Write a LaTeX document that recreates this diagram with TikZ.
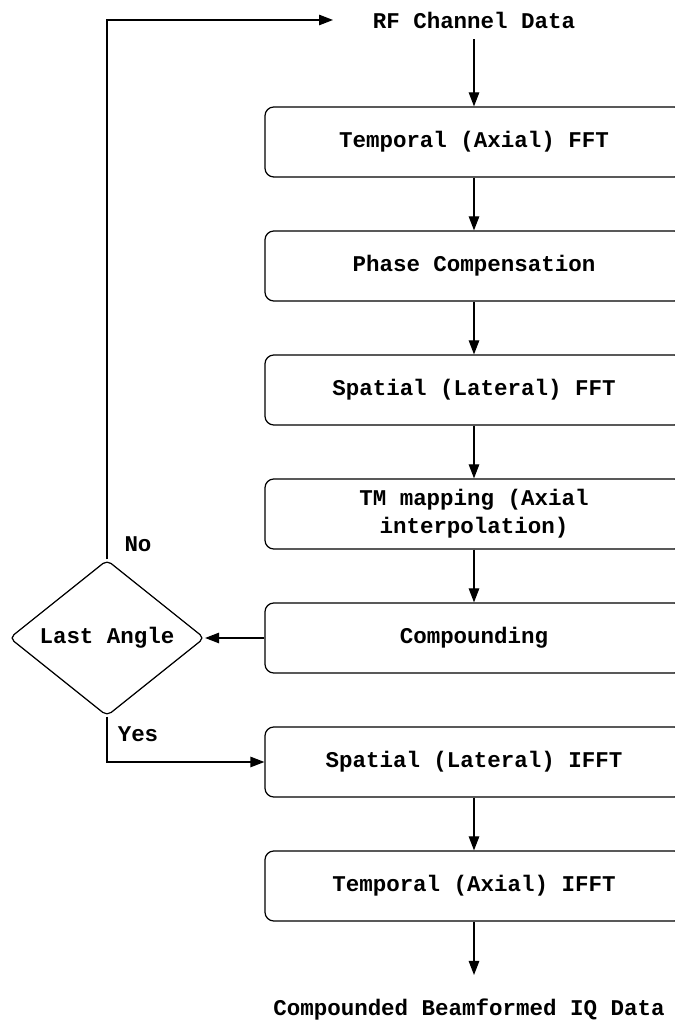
\documentclass[tikz,border=0pt]{standalone}
\usepackage{fontspec}
\setmonofont{Liberation Mono}
\usepackage{tikz}
\usetikzlibrary{shapes.geometric,arrows.meta}

\tikzset{
  stage/.style={rectangle, rounded corners=5pt, draw=black, line width=0.7pt,
    minimum width=8.36cm, minimum height=1.4cm, text width=6.5cm, align=flush center},
  flow/.style={line width=0.7pt, -{Triangle[length=2.8mm,width=2.1mm]}},
}

\begin{document}
\begin{tikzpicture}[font=\ttfamily\bfseries\fontsize{12.8}{15.9}\selectfont]
\useasboundingbox (0,0) rectangle (13.48,20.5);
\node (rf) at (9.48,20.1) {RF Channel Data};
\node[stage] (tfft) at (9.48,17.66) {Temporal (Axial) FFT};
\node[stage] (phase) at (9.48,15.18) {Phase Compensation};
\node[stage] (sfft) at (9.48,12.70) {Spatial (Lateral) FFT};
\node[stage] (tm) at (9.48,10.22) {TM mapping (Axial\\ interpolation)};
\node[stage] (comp) at (9.48,7.74) {Compounding};
\node[stage] (sifft) at (9.48,5.26) {Spatial (Lateral) IFFT};
\node[stage] (tifft) at (9.48,2.78) {Temporal (Axial) IFFT};
\node (iq) at (9.38,0.3) {Compounded Beamformed IQ Data};
\node[diamond, draw=black, line width=0.7pt, rounded corners=3pt, inner sep=0pt,
  minimum width=3.9cm, minimum height=2.72cm] (last) at (2.14,7.74) {Last Angle};
\node (no) at (2.76,9.62) {No};
\node (yes) at (2.76,5.82) {Yes};
\coordinate (top) at (2.14,20.1);
\coordinate (rfin) at (6.66,20.1);
\coordinate (iqin) at (9.48,1.0);

\draw[flow] (rf.south -| tfft.north) ++(0,-0.1) -- (tfft.north);
\draw[flow] (tfft) -- (phase);
\draw[flow] (phase) -- (sfft);
\draw[flow] (sfft) -- (tm);
\draw[flow] (tm) -- (comp);
\draw[flow] (comp) -- (last);
\draw[flow] (last.north) -- (top) -- (rfin);
\draw[flow] (last.south) |- (sifft.west);
\draw[flow] (sifft) -- (tifft);
\draw[flow] (tifft) -- (iqin);
\end{tikzpicture}
\end{document}
